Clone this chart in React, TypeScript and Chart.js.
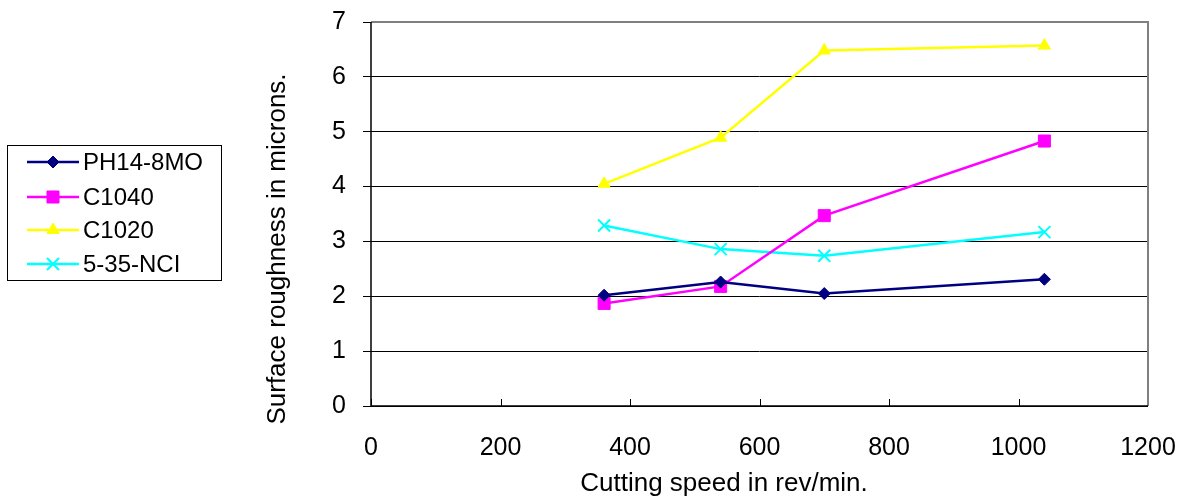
import React, { useEffect, useRef } from "react";
import { Chart, registerables } from "chart.js";
import { drawPoint } from "chart.js/helpers";

Chart.register(...registerables);

const speeds = [360, 540, 700, 1040];
const ph14 = [2.02, 2.26, 2.05, 2.31];
const c1040 = [1.87, 2.18, 3.47, 4.83];
const c1020 = [4.05, 4.89, 6.48, 6.57];
const nci = [3.29, 2.86, 2.74, 3.17];
const seriesNames = ["PH14-8MO", "C1040", "C1020", "5-35-NCI"];
const xTicks = [0, 200, 400, 600, 800, 1000, 1200];
const xTitle = "Cutting speed in rev/min.";
const yTitle = "Surface roughness in microns.";

const FONT = "'Liberation Sans', Arial, sans-serif";

const styles = [
  { color: "#000080", pointStyle: "rectRot", radius: 6 },
  { color: "#FF00FF", pointStyle: "rect", radius: 8.5 },
  { color: "#FFFF00", pointStyle: "triangle", radius: 7 },
  { color: "#00FFFF", pointStyle: "crossRot", radius: 8.5 },
];

export default function App() {
  const ref = useRef<HTMLCanvasElement>(null);
  useEffect(() => {
    const values = [ph14, c1040, c1020, nci];
    const datasets = values.map((vals, i) => ({
      label: seriesNames[i],
      data: vals.map((v, j) => ({ x: speeds[j], y: v })),
      borderColor: styles[i].color,
      backgroundColor: styles[i].color,
      pointBackgroundColor: styles[i].color,
      pointBorderColor: styles[i].color,
      pointStyle: styles[i].pointStyle as any,
      pointRadius: styles[i].radius,
      pointBorderWidth: i === 3 ? 2 : 1,
      borderWidth: 2.5,
      showLine: true,
      tension: 0,
    }));

    const decor = {
      id: "decor",
      beforeDatasetsDraw(chart: any) {
        const { ctx, chartArea: a, scales } = chart;
        ctx.save();
        ctx.strokeStyle = "#000";
        ctx.lineWidth = 1;
        xTicks.forEach((t) => {
          const x = Math.round(scales.x.getPixelForValue(t)) + 0.5;
          ctx.beginPath();
          ctx.moveTo(x, a.bottom);
          ctx.lineTo(x, a.bottom - 7);
          ctx.stroke();
        });
        ctx.strokeStyle = "#808080";
        ctx.lineWidth = 2;
        ctx.beginPath();
        ctx.moveTo(a.left, a.top);
        ctx.lineTo(a.right, a.top);
        ctx.lineTo(a.right, a.bottom);
        ctx.stroke();
        ctx.strokeStyle = "#000";
        ctx.lineWidth = 1.5;
        ctx.beginPath();
        ctx.moveTo(a.left, a.top);
        ctx.lineTo(a.left, a.bottom);
        ctx.lineTo(a.right, a.bottom);
        ctx.stroke();
        ctx.restore();
      },
      afterDraw(chart: any) {
        const { ctx } = chart;
        ctx.save();
        ctx.fillStyle = "#000";
        ctx.font = `26px ${FONT}`;
        ctx.textAlign = "center";
        ctx.textBaseline = "middle";
        ctx.fillText(xTitle, 724, 484);
        ctx.translate(278, 249);
        ctx.rotate(-Math.PI / 2);
        ctx.fillText(yTitle, 0, 0);
        ctx.restore();

        ctx.save();
        ctx.strokeStyle = "#000";
        ctx.lineWidth = 1;
        ctx.strokeRect(7.5, 145.5, 214, 135);
        const rows = [162, 197, 230, 264];
        rows.forEach((y, i) => {
          const s = styles[i];
          ctx.strokeStyle = s.color;
          ctx.lineWidth = 2.5;
          ctx.beginPath();
          ctx.moveTo(27, y);
          ctx.lineTo(79, y);
          ctx.stroke();
          ctx.fillStyle = s.color;
          ctx.lineWidth = i === 3 ? 2 : 1;
          drawPoint(ctx, { pointStyle: s.pointStyle as any, radius: s.radius, rotation: 0, borderWidth: i === 3 ? 2 : 1 }, 53, y);
          ctx.fillStyle = "#000";
          ctx.font = `24px ${FONT}`;
          ctx.textAlign = "left";
          ctx.textBaseline = "middle";
          ctx.fillText(seriesNames[i], 83, y + 1);
        });
        ctx.restore();
      },
    };

    const chart = new Chart(ref.current!, {
      type: "scatter",
      data: { datasets: datasets as any },
      options: {
        animation: false,
        responsive: false,
        devicePixelRatio: 1,
        layout: { padding: { left: 0, top: 22, right: 40, bottom: 0 } },
        plugins: { legend: { display: false }, tooltip: { enabled: false } },
        scales: {
          x: {
            type: "linear",
            min: 0,
            max: 1200,
            afterBuildTicks: (scale: any) => {
              scale.ticks = xTicks.map((v) => ({ value: v }));
            },
            afterFit: (scale: any) => {
              scale.height = 92;
              scale.paddingLeft = 0;
              scale.paddingRight = 0;
            },
            grid: { display: false, drawTicks: false },
            border: { display: false },
            ticks: {
              color: "#000",
              font: { family: FONT, size: 25 },
              padding: 27,
              maxRotation: 0,
              autoSkip: false,
              callback: (v: any) => String(v),
            },
          },
          y: {
            type: "linear",
            min: 0,
            max: 7,
            afterFit: (scale: any) => {
              scale.width = 371;
              scale.paddingTop = 0;
              scale.paddingBottom = 0;
            },
            grid: {
              color: (c: any) => (c.tick && c.tick.value === 7 ? "#808080" : "#000"),
              lineWidth: 1,
              drawTicks: true,
              tickLength: 8,
              tickColor: "#000",
            },
            border: { display: false },
            ticks: {
              stepSize: 1,
              color: "#000",
              font: { family: FONT, size: 25 },
              padding: 17,
              callback: (v: any) => String(v),
            },
          },
        },
      },
      plugins: [decor],
    });
    return () => chart.destroy();
  }, []);

  return (
    <div style={{ position: "absolute", left: 0, top: 0, width: 1188, height: 498, background: "#fff" }}>
      <canvas ref={ref} width={1188} height={498} style={{ display: "block" }} />
    </div>
  );
}
